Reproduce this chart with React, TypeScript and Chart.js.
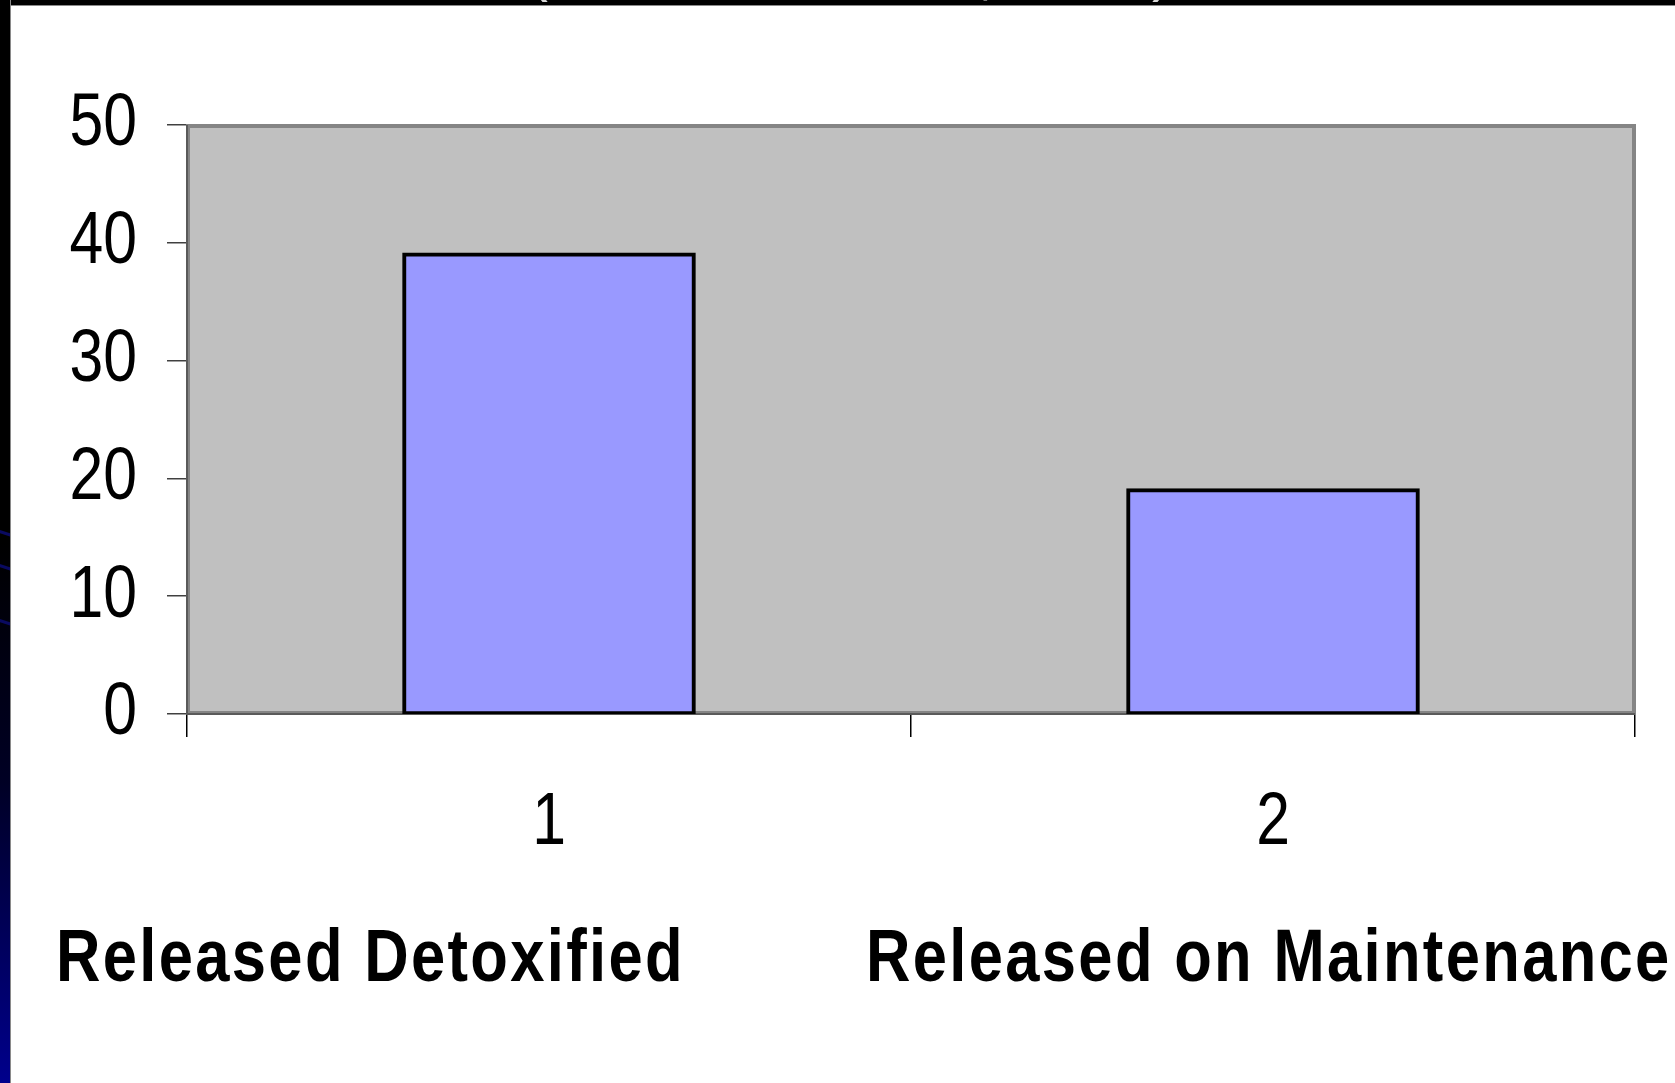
import React, { useEffect, useRef } from 'react';
import { Chart, registerables } from 'chart.js';

Chart.register(...registerables);

const categories = ['1', '2'];
const values = [39, 19];
const categoryNames = ['Released Detoxified', 'Released on Maintenance'];
const yMin = 0;
const yMax = 50;
const yStep = 10;

const SANS = '"Liberation Sans", Arial, sans-serif';
const CONDENSE = 0.82;

const plotFrame = {
  id: 'plotFrame',
  beforeDatasetsDraw(chart: any) {
    const { ctx, chartArea: a } = chart;
    ctx.save();
    ctx.fillStyle = '#C0C0C0';
    ctx.fillRect(a.left, a.top, a.right - a.left, a.bottom - a.top);
    ctx.strokeStyle = '#858585';
    ctx.lineWidth = 4;
    ctx.strokeRect(a.left + 1, a.top + 1, a.right - a.left - 2, a.bottom - a.top - 2);
    ctx.strokeStyle = '#5a5a5a';
    ctx.lineWidth = 2;
    ctx.beginPath();
    ctx.moveTo(a.left, a.top);
    ctx.lineTo(a.left, a.bottom);
    ctx.lineTo(a.right, a.bottom);
    ctx.stroke();
    ctx.restore();
  },
};

// Draws the axis tick labels with a condensed (narrow) look, at the library's tick positions
const narrowTickLabels = {
  id: 'narrowTickLabels',
  afterDraw(chart: any) {
    const { ctx } = chart;
    const ys = chart.scales.y;
    const xs = chart.scales.x;
    ctx.save();
    ctx.fillStyle = '#000';
    ctx.font = `74px ${SANS}`;
    ctx.textBaseline = 'middle';
    ctx.textAlign = 'right';
    ys.ticks.forEach((t: any, i: number) => {
      const y = ys.getPixelForTick(i);
      const x = ys.right - 20 - 30;
      ctx.save();
      ctx.translate(x, y);
      ctx.scale(CONDENSE, 1);
      ctx.fillText(String(t.label), 0, 0);
      ctx.restore();
    });
    ctx.textAlign = 'center';
    xs.ticks.forEach((t: any, i: number) => {
      const x = xs.getPixelForTick(i);
      const y = xs.top + 23 + 38 + 49;
      ctx.save();
      ctx.translate(x, y);
      ctx.scale(CONDENSE, 1);
      ctx.fillText(String(t.label), 0, 0);
      ctx.restore();
    });
    ctx.restore();
  },
};

export default function App() {
  const canvasRef = useRef<HTMLCanvasElement | null>(null);

  useEffect(() => {
    const canvas = canvasRef.current;
    if (!canvas) return;
    const chart = new Chart(canvas, {
      type: 'bar',
      data: {
        labels: categories,
        datasets: [
          {
            data: values,
            backgroundColor: '#9999FF',
            borderColor: '#000000',
            borderWidth: 4,
            borderSkipped: false,
            inflateAmount: 2,
            barPercentage: 0.4,
            categoryPercentage: 1.0,
          },
        ],
      },
      options: {
        responsive: false,
        animation: false,
        devicePixelRatio: 1,
        layout: { padding: { top: 125, right: 40, bottom: 169, left: 0 } },
        plugins: {
          legend: { display: false },
          tooltip: { enabled: false },
          title: { display: false },
        },
        scales: {
          x: {
            ticks: { display: false },
            grid: { drawOnChartArea: false, drawTicks: true, tickLength: 23, color: '#000', lineWidth: 1.5, offset: true },
            border: { display: false },
            afterFit: (s: any) => {
              s.height = 200;
            },
          },
          y: {
            min: yMin,
            max: yMax,
            ticks: { stepSize: yStep, display: false },
            grid: { drawOnChartArea: false, drawTicks: true, tickLength: 20, color: '#404040', lineWidth: 1.5 },
            border: { display: false },
            afterFit: (s: any) => {
              s.width = 187;
            },
          },
        },
      },
      plugins: [plotFrame, narrowTickLabels],
    });
    return () => chart.destroy();
  }, []);

  const labelStyle: React.CSSProperties = {
    position: 'absolute',
    top: 918,
    fontFamily: SANS,
    fontWeight: 'bold',
    fontSize: 75,
    lineHeight: '75px',
    letterSpacing: '2.85px',
    color: '#000',
    whiteSpace: 'nowrap',
    transform: `scaleX(${CONDENSE})`,
    transformOrigin: 'left top',
  };

  const fragStyle: React.CSSProperties = {
    position: 'absolute',
    fontFamily: SANS,
    fontSize: 60,
    lineHeight: '60px',
    color: '#d8d8d8',
  };

  return (
    <div
      style={{
        position: 'fixed',
        left: 0,
        top: 0,
        width: 1675,
        height: 1083,
        background: '#ffffff',
        overflow: 'hidden',
      }}
    >
      <div
        style={{
          position: 'absolute',
          left: 0,
          top: 0,
          width: 1675,
          height: 5,
          background: '#000',
          borderBottom: '1px solid #8a8a8a',
          overflow: 'hidden',
        }}
      >
        <span style={{ ...fragStyle, left: 528, top: -60 }}>(</span>
        <span style={{ ...fragStyle, left: 978, top: -57 }}>,</span>
        <span style={{ ...fragStyle, left: 1152, top: -60 }}>)</span>
      </div>
      <div
        style={{
          position: 'absolute',
          left: 0,
          top: 0,
          width: 10,
          height: 1083,
          background: 'linear-gradient(to bottom, #000 0%, #000 50%, #000024 72%, #00008c 100%)',
          borderRight: '1px solid #8a8a8a',
          overflow: 'hidden',
        }}
      >
        <div style={{ position: 'absolute', left: -2, top: 532, width: 16, height: 3, background: '#0a0a60', transform: 'rotate(18deg)' }} />
        <div style={{ position: 'absolute', left: -2, top: 566, width: 16, height: 3, background: '#0a0a60', transform: 'rotate(18deg)' }} />
        <div style={{ position: 'absolute', left: -2, top: 621, width: 16, height: 3, background: '#0a0a60', transform: 'rotate(18deg)' }} />
      </div>
      <canvas
        ref={canvasRef}
        width={1675}
        height={1083}
        style={{ position: 'absolute', left: 0, top: 0, width: 1675, height: 1083 }}
      />
      <div style={{ ...labelStyle, left: 56 }}>{categoryNames[0]}</div>
      <div style={{ ...labelStyle, left: 866 }}>{categoryNames[1]}</div>
    </div>
  );
}
